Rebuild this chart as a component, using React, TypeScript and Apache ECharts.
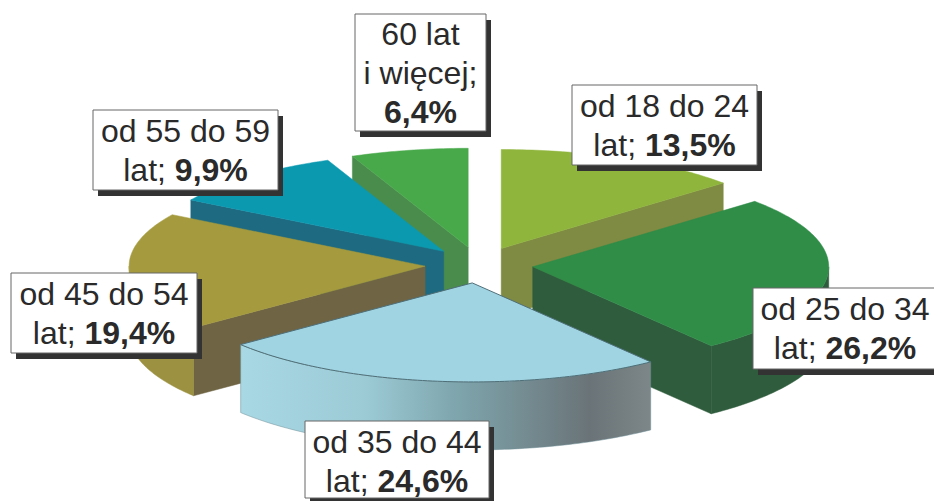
import React, { useEffect, useRef } from "react";
import * as echarts from "echarts";

const categories = ["od 18 do 24 lat", "od 25 do 34 lat", "od 35 do 44 lat", "od 45 do 54 lat", "od 55 do 59 lat", "60 lat i więcej"];
const shares = [13.5, 26.2, 24.6, 19.4, 9.9, 6.4];
const labelLines = [["od 18 do 24", "lat; "], ["od 25 do 34", "lat; "], ["od 35 do 44", "lat; "], ["od 45 do 54", "lat; "], ["od 55 do 59", "lat; "], ["60 lat", "i więcej;", ""]];

const topColors = ["#8fb53c", "#2f8d48", "#a0d4e2", "#a59b3e", "#0b99b0", "#48a94b"];
const edgeColors = ["#7f8a42", "#2f5c3c", "#a0d4e2", "#6f6544", "#1e6a80", "#4a8c4c"];
const arcColors = ["#7f8a42", "#2f5c3c", "#a0d4e2", "#9c9140", "#1e6a80", "#4a8c4c"];
const paintRank = [1, 3, 5, 4, 2, 0];
const labelBoxes = [
  [572, 85, 185, 80],
  [753, 288, 184, 81],
  [305, 421, 184, 77],
  [11, 273, 186, 80],
  [93, 110, 185, 80],
  [355, 14, 131, 117],
];

const CX = 479, CY = 265, RX = 296, RY = 99, DEPTH = 68, EXPLODE = 54;
const RAD = Math.PI / 180;

const fmt = (v: number) => v.toFixed(1).replace(".", ",") + "%";

const total = shares.reduce((a, b) => a + b, 0);
const starts: number[] = [];
shares.reduce((acc, v, i) => { starts[i] = acc; return acc + (v / total) * 360; }, 0);

function renderItem(params: any, api: any) {
  const i = params.dataIndex;
  const sweep = (api.value(0) / total) * 360;
  const a0 = starts[i];
  const a1 = a0 + sweep;
  const mid = (a0 + a1) / 2;
  const ax = CX + EXPLODE * Math.sin(mid * RAD);
  const ay = CY - (EXPLODE * RY / RX) * Math.cos(mid * RAD);
  const pt = (deg: number, dz = 0): number[] => [ax + RX * Math.sin(deg * RAD), ay - RY * Math.cos(deg * RAD) + dz];
  const arc = (from: number, to: number, dz = 0) => {
    const out: number[][] = [];
    const n = Math.max(2, Math.ceil(Math.abs(to - from)));
    for (let k = 0; k <= n; k++) out.push(pt(from + ((to - from) * k) / n, dz));
    return out;
  };
  const z = paintRank[i] * 10;
  const children: any[] = [];
  const radialWall = (deg: number) => {
    const p = pt(deg), q = pt(deg, DEPTH);
    children.push({
      type: "polygon", z2: z,
      shape: { points: [[ax, ay], p, q, [ax, ay + DEPTH]] },
      style: { fill: edgeColors[i], stroke: edgeColors[i], lineWidth: 0.5 },
    });
  };
  if (a1 < 180 || (a1 <= 180 && a0 < 180)) radialWall(a1);
  if (a0 >= 180) radialWall(a0);
  const w0 = Math.max(a0, 90), w1 = Math.min(a1, 270);
  if (w1 > w0) {
    const fill: any = i === 2
      ? new echarts.graphic.LinearGradient(0, 0, 1, 0, [
          { offset: 0, color: "#a8d8e4" },
          { offset: 0.3, color: "#9ccbd6" },
          { offset: 0.52, color: "#7fa6ae" },
          { offset: 0.85, color: "#6a7478" },
          { offset: 1, color: "#7d8789" },
        ])
      : arcColors[i];
    children.push({
      type: "polygon", z2: z + 1,
      shape: { points: [...arc(w0, w1), ...arc(w1, w0, DEPTH)] },
      style: { fill, stroke: i === 2 ? "#6f8f96" : arcColors[i], lineWidth: 0.5 },
    });
  }
  children.push({
    type: "polygon", z2: z + 2,
    shape: { points: [[ax, ay], ...arc(a0, a1)] },
    style: { fill: topColors[i], stroke: i === 2 ? "#4f6f78" : topColors[i], lineWidth: i === 2 ? 1 : 0.5 },
  });
  return { type: "group", children };
}

const labelGraphics = labelBoxes.map((b, i) => {
  const [x, y, w, h] = b;
  const lines = labelLines[i];
  const value = fmt(shares[i]);
  const text = lines
    .map((l, k) => (k === lines.length - 1 ? (l ? `{a|${l}}` : "") + `{b|${value}}` : `{a|${l}}`))
    .join("\n");
  return {
    type: "group",
    z: 100,
    children: [
      { type: "rect", z: 100, shape: { x: x + 5, y: y + 6, width: w, height: h }, style: { fill: "#333333" } },
      { type: "rect", z: 101, shape: { x, y, width: w, height: h }, style: { fill: "#ffffff", stroke: "#666666", lineWidth: 1 } },
      {
        type: "text", z: 102, x: x + w / 2, y: y + h / 2 + (h < 78 ? 2 : 0),
        style: {
          text, align: "center", verticalAlign: "middle",
          rich: {
            a: { fontFamily: "Liberation Sans", fontSize: 32, lineHeight: 39, fill: "#2a2a2a" },
            b: { fontFamily: "Liberation Sans", fontSize: 32, lineHeight: 39, fontWeight: "bold", fill: "#2a2a2a" },
          },
        },
      },
    ],
  };
});

export default function App() {
  const ref = useRef<HTMLDivElement>(null);
  useEffect(() => {
    document.body.style.margin = "0";
    const chart = echarts.init(ref.current!, null, { renderer: "svg" });
    chart.setOption({
      animation: false,
      backgroundColor: "#ffffff",
      series: [{
        type: "custom",
        coordinateSystem: "none",
        z: 2,
        silent: true,
        renderItem,
        data: shares.map((v, i) => ({ name: categories[i], value: [v] })),
      }],
      graphic: { elements: labelGraphics },
    });
    return () => chart.dispose();
  }, []);
  return <div ref={ref} style={{ position: "absolute", left: 0, top: 0, width: 934, height: 501 }} />;
}
